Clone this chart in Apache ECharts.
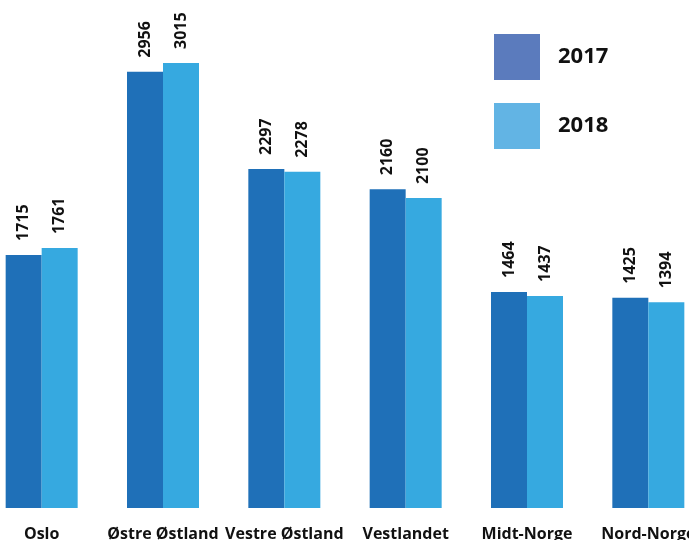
<!DOCTYPE html>
<html><head><meta charset="utf-8">
<script src="https://cdn.jsdelivr.net/npm/echarts@6/dist/echarts.min.js"></script>
<style>html,body{margin:0;padding:0;background:#fff}#c{width:689px;height:540px}</style>
</head><body><div id="c"></div>
<script>
const categories = ["Oslo", "Østre Østland", "Vestre Østland", "Vestlandet", "Midt-Norge", "Nord-Norge"];
const values2017 = [1715, 2956, 2297, 2160, 1464, 1425];
const values2018 = [1761, 3015, 2278, 2100, 1437, 1394];
const seriesNames = ["2017", "2018"];

const chart = echarts.init(document.getElementById('c'), null, {renderer: 'canvas'});
const font = '"Open Sans", "Noto Sans", "DejaVu Sans", sans-serif';
const labelCfg = {
  show: true, position: 'top', rotate: 90, align: 'left', verticalAlign: 'middle',
  distance: 14, color: '#111', fontWeight: 'bold', fontSize: 16, fontFamily: font
};
chart.setOption({
  animation: false,
  grid: {left: -19, right: -20, top: 0, bottom: 32, containLabel: false, outerBoundsMode: 'none'},
  legend: {
    orient: 'vertical', left: 494, top: 34, padding: 0, itemWidth: 46, itemHeight: 46, itemGap: 23,
    icon: 'rect',
    textStyle: {fontSize: 22, fontWeight: 'bold', color: '#111', fontFamily: font, padding: [0, 0, 0, 13]},
    data: [
      {name: seriesNames[0], itemStyle: {color: '#5b7bbd'}},
      {name: seriesNames[1], itemStyle: {color: '#62b4e4'}}
    ]
  },
  xAxis: {
    type: 'category', data: categories,
    axisLine: {show: false}, axisTick: {show: false},
    axisLabel: {interval: 0, margin: 18, fontSize: 16, fontWeight: 'bold', color: '#111', fontFamily: font}
  },
  yAxis: {type: 'value', min: 0, max: 3442, show: false, splitLine: {show: false}},
  series: [
    {name: seriesNames[0], type: 'bar', data: values2017, barWidth: 36, barGap: '0%',
     itemStyle: {color: '#1f70b8'}, label: labelCfg},
    {name: seriesNames[1], type: 'bar', data: values2018, barWidth: 36, barGap: '0%',
     itemStyle: {color: '#36a9e0'}, label: labelCfg}
  ]
});
</script></body></html>
